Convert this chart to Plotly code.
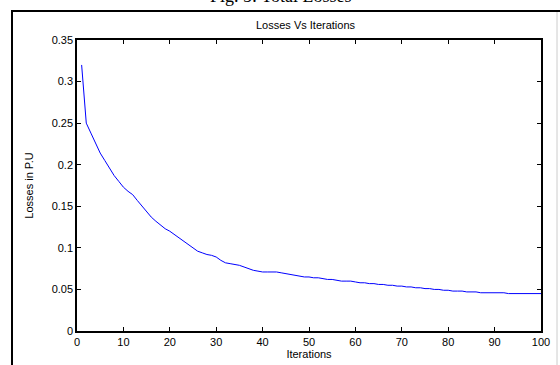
import plotly.graph_objects as go

iterations = list(range(1, 101))
losses = [
    0.320, 0.250, 0.238, 0.225, 0.214, 0.205, 0.196, 0.187, 0.180, 0.173,
    0.168, 0.164, 0.157, 0.150, 0.143, 0.137, 0.132, 0.127, 0.123, 0.120,
    0.116, 0.112, 0.107, 0.103, 0.099, 0.096, 0.094, 0.092, 0.091, 0.089,
    0.085, 0.082, 0.081, 0.080, 0.079, 0.077, 0.075, 0.073, 0.072, 0.071,
    0.071, 0.071, 0.071, 0.070, 0.069, 0.068, 0.067, 0.066, 0.065, 0.065,
    0.064, 0.064, 0.063, 0.062, 0.062, 0.061, 0.060, 0.060, 0.060, 0.059,
    0.058, 0.058, 0.057, 0.057, 0.056, 0.056, 0.055, 0.055, 0.054, 0.054,
    0.053, 0.053, 0.052, 0.052, 0.051, 0.051, 0.050, 0.050, 0.049, 0.049,
    0.048, 0.048, 0.048, 0.047, 0.047, 0.047, 0.046, 0.046, 0.046, 0.046,
    0.046, 0.046, 0.045, 0.045, 0.045, 0.045, 0.045, 0.045, 0.045, 0.045,
]
x_ticks = [0, 10, 20, 30, 40, 50, 60, 70, 80, 90, 100]
y_ticks = [0, 0.05, 0.1, 0.15, 0.2, 0.25, 0.3, 0.35]
y_tick_labels = ["0", "0.05", "0.1", "0.15", "0.2", "0.25", "0.3", "0.35"]

fig = go.Figure()
fig.add_trace(go.Scatter(x=iterations, y=losses, mode="lines",
                         line=dict(color="#0000ff", width=1), showlegend=False))

W, H = 560, 365
L, R, T, B = 77, 19, 40, 34
pw, ph = W - L - R, H - T - B

def px_x(p):
    return (p - L) / pw

def px_y(p):
    return (H - B - p) / ph

axis_font = dict(family="Liberation Sans, Arial, sans-serif", size=11, color="black")

fig.update_layout(
    width=W, height=H,
    margin=dict(l=L, r=R, t=T, b=B),
    paper_bgcolor="white", plot_bgcolor="white",
    font=axis_font,
    xaxis=dict(range=[0, 100], tickvals=x_ticks, ticks="inside", ticklen=4,
               tickcolor="black", showline=True, linecolor="black", linewidth=1.5,
               mirror="ticks", showgrid=False, zeroline=False, automargin=False,
               tickfont=axis_font, title=dict(text="Iterations", standoff=0, font=axis_font)),
    yaxis=dict(range=[0, 0.35], tickvals=y_ticks, ticktext=y_tick_labels,
               ticks="inside", ticklen=4, tickcolor="black", automargin=False,
               showline=True, linecolor="black", linewidth=1.5, mirror="ticks",
               showgrid=False, zeroline=False, tickfont=axis_font,
               title=dict(text="Losses in P.U", standoff=16, font=axis_font)),
    shapes=[
        dict(type="line", xref="paper", yref="paper", x0=px_x(12), x1=px_x(12),
             y0=px_y(11), y1=px_y(365), line=dict(color="black", width=2)),
        dict(type="line", xref="paper", yref="paper", x0=px_x(11), x1=px_x(560),
             y0=px_y(11), y1=px_y(11), line=dict(color="black", width=2)),
        dict(type="line", xref="paper", yref="paper", x0=px_x(557), x1=px_x(557),
             y0=px_y(12), y1=px_y(365), line=dict(color="#cccccc", width=1)),
    ],
    annotations=[
        dict(text="Fig. 5: Total Losses", xref="paper", yref="paper",
             x=px_x(280), y=px_y(8), xanchor="center", yanchor="bottom",
             showarrow=False,
             font=dict(family="Liberation Serif, Times New Roman, serif", size=18, color="black")),
        dict(text="Losses Vs Iterations", xref="paper", yref="paper",
             x=px_x(306), y=px_y(25), xanchor="center", yanchor="middle",
             showarrow=False, font=axis_font),
    ],
)

fig.write_html("out.html", config={"displayModeBar": False},
               post_script="document.body.style.margin='0';document.body.style.overflow='hidden';")
